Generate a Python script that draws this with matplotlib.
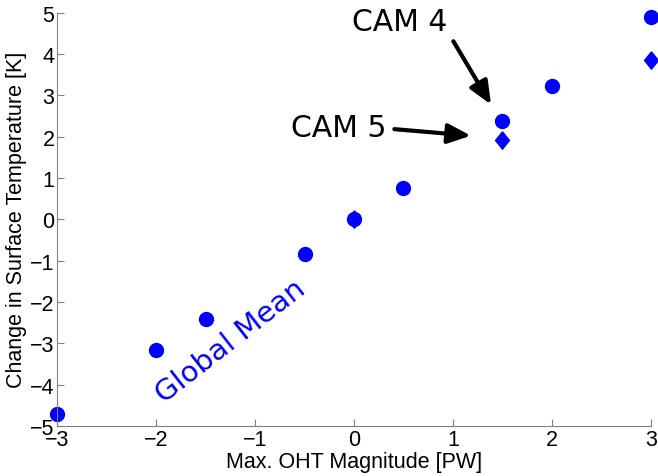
import matplotlib
matplotlib.use("Agg")
import matplotlib.pyplot as plt

# global mean warming vs. OHT magnitude
oht = [-3, -2, -1.5, -0.5, 0, 0.5, 1.5, 2, 3]
dT_cam4 = [-4.7, -3.17, -2.4, -0.84, 0.0, 0.75, 2.37, 3.23, 4.9]
oht_cam5 = [0, 1.5, 3]
dT_cam5 = [0.02, 1.92, 3.86]

xticks = [-3, -2, -1, 0, 1, 2, 3]
yticks = [-5, -4, -3, -2, -1, 0, 1, 2, 3, 4, 5]

# matlab-style diamond (wider than mpl 'd')
diamond = [(0, 1), (0.8, 0), (0, -1), (-0.8, 0), (0, 1)]

fig = plt.figure(figsize=(6.58, 4.77), dpi=100)
ax = fig.add_axes([0.087, 0.105, 0.902, 0.866])

ax.plot(oht, dT_cam4, 'o', color='#0000ff', markersize=10, clip_on=False)
ax.plot(oht_cam5, dT_cam5, marker=diamond, ls='none', color='#0000ff',
        markersize=12.5, clip_on=False)

ax.set_xlim(-3, 3)
ax.set_ylim(-5, 5)
ax.set_xticks(xticks)
ax.set_yticks(yticks)

for s in ['top', 'right']:
    ax.spines[s].set_visible(False)
for s in ['left', 'bottom']:
    ax.spines[s].set_color('#808080')
ax.tick_params(direction='in', color='#808080', labelsize=15.5, length=5, pad=2)
for lab in ax.get_xticklabels() + ax.get_yticklabels():
    lab.set_family('Liberation Sans')

ax.set_xlabel('Max. OHT Magnitude [PW]', fontsize=15.5, family='Liberation Sans', labelpad=1)
ax.set_ylabel('Change in Surface Temperature [K]', fontsize=15.5, family='Liberation Sans', labelpad=2)

arrow = dict(arrowstyle='-|>,head_width=0.6,head_length=1.4', color='black', lw=3)
ax.annotate('', xy=(1.40, 2.72), xytext=(0.99, 4.37), arrowprops=arrow)
ax.annotate('', xy=(1.21, 2.02), xytext=(0.38, 2.19), arrowprops=arrow)
ax.text(0.46, 4.78, 'CAM 4', fontsize=21.5, ha='center', va='center')
ax.text(-0.15, 2.22, 'CAM 5', fontsize=21.5, ha='center', va='center')
ax.text(-1.25, -2.95, 'Global Mean', fontsize=21, color='#0000ff', rotation=38,
        ha='center', va='center')

fig.savefig('out.png', dpi=100)
